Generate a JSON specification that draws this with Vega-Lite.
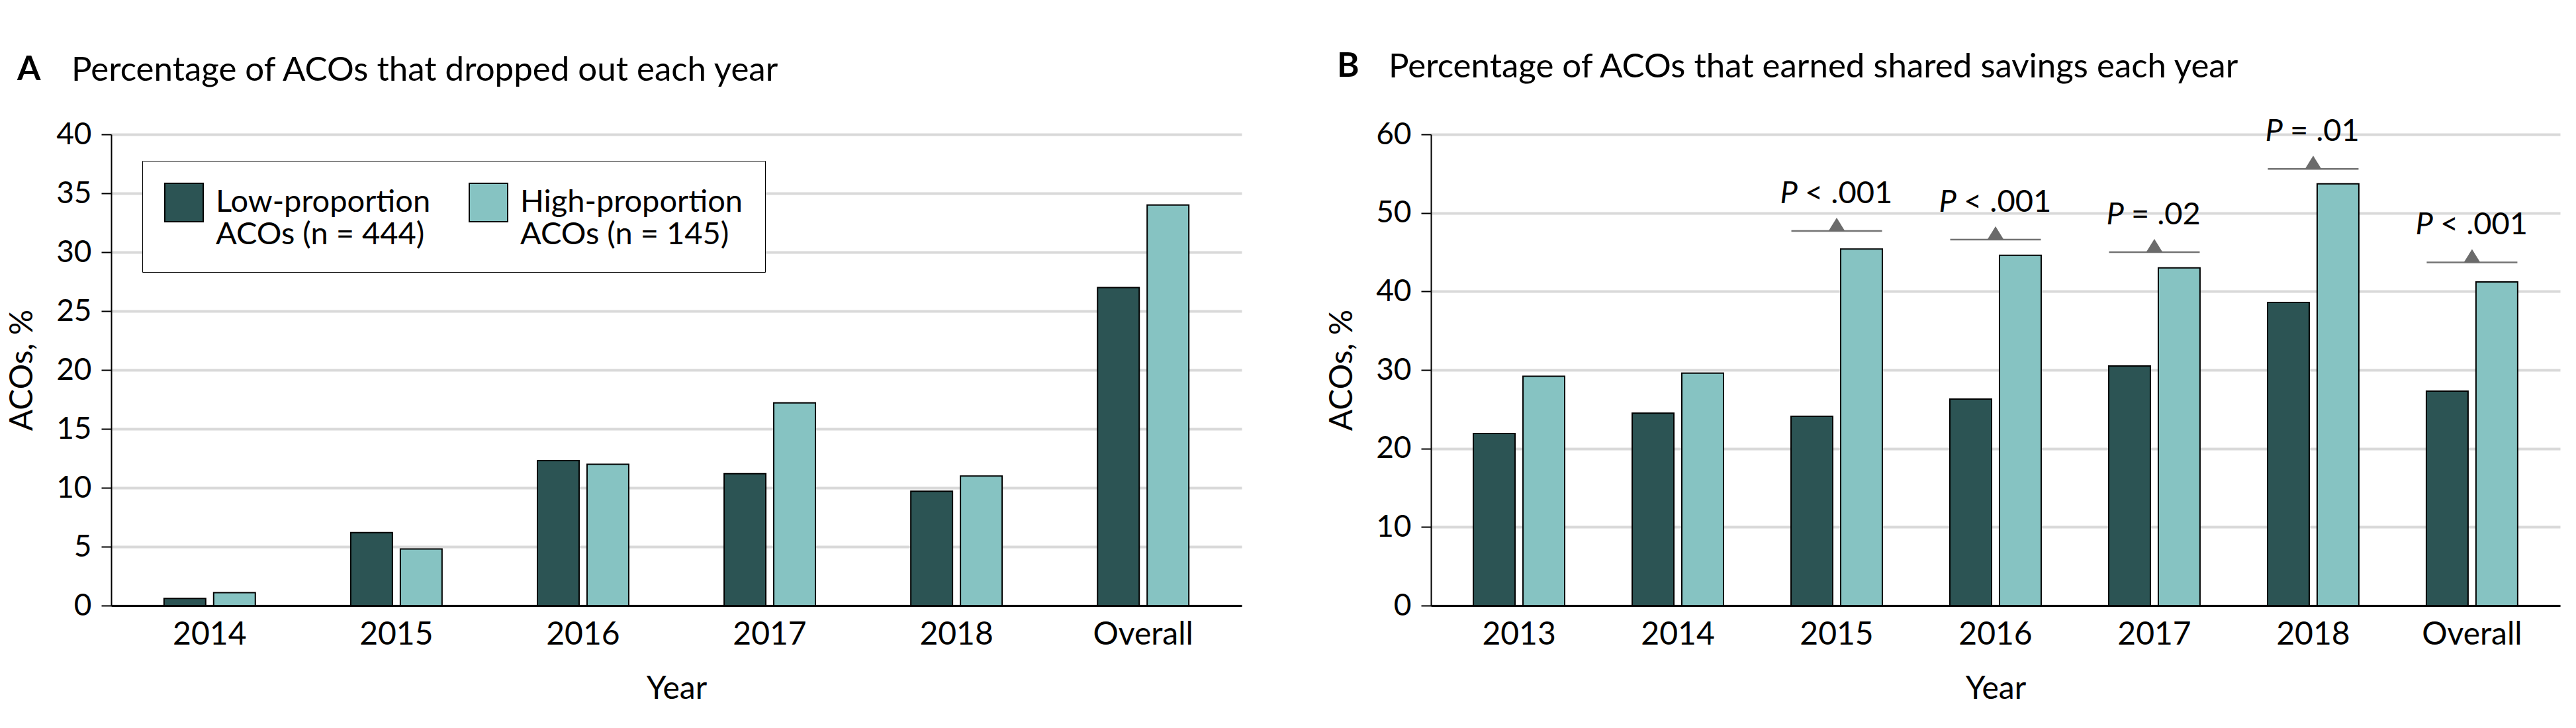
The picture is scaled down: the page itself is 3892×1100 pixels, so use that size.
{
  "$schema": "https://vega.github.io/schema/vega-lite/v6.json",
  "background": "white",
  "padding": {"left": 10, "top": 75, "right": 15, "bottom": 20},
  "spacing": 128,
  "config": {
    "font": "Lato",
    "view": {"stroke": null},
    "axis": {"labelColor": "black", "titleColor": "black", "titleFontWeight": "normal"},
    "axisX": {"labelAngle": 0, "ticks": false, "domainColor": "black", "domainWidth": 3, "labelFontSize": 48, "labelPadding": 20, "titleFontSize": 48, "titlePadding": 34, "grid": false},
    "axisY": {"grid": true, "gridColor": "#d9d9d9", "gridWidth": 4, "domainColor": "black", "domainWidth": 2, "tickColor": "black", "tickWidth": 2, "tickSize": 15, "labelPadding": 15, "labelFontSize": 46, "titleFontSize": 48, "titlePadding": 26},
    "title": {"fontSize": 51, "fontWeight": "normal", "anchor": "start", "color": "black", "baseline": "top", "frame": "group"},
    "legend": {"labelFontSize": 47, "labelColor": "black", "symbolType": "square", "symbolSize": 3364, "symbolStrokeColor": "black", "symbolStrokeWidth": 2, "labelOffset": 18, "columnPadding": 54, "padding": 33, "strokeColor": "black", "fillColor": "white", "labelLimit": 0}
  },
  "datasets": {
    "dropout": [
      {"year": "2014", "group": "Low-proportion ACOs (n = 444)", "pct": 0.6},
      {"year": "2014", "group": "High-proportion ACOs (n = 145)", "pct": 1.1},
      {"year": "2015", "group": "Low-proportion ACOs (n = 444)", "pct": 6.2},
      {"year": "2015", "group": "High-proportion ACOs (n = 145)", "pct": 4.8},
      {"year": "2016", "group": "Low-proportion ACOs (n = 444)", "pct": 12.3},
      {"year": "2016", "group": "High-proportion ACOs (n = 145)", "pct": 12.0},
      {"year": "2017", "group": "Low-proportion ACOs (n = 444)", "pct": 11.2},
      {"year": "2017", "group": "High-proportion ACOs (n = 145)", "pct": 17.2},
      {"year": "2018", "group": "Low-proportion ACOs (n = 444)", "pct": 9.7},
      {"year": "2018", "group": "High-proportion ACOs (n = 145)", "pct": 11.0},
      {"year": "Overall", "group": "Low-proportion ACOs (n = 444)", "pct": 27.0},
      {"year": "Overall", "group": "High-proportion ACOs (n = 145)", "pct": 34.0}
    ],
    "savings": [
      {"year": "2013", "group": "Low-proportion ACOs (n = 444)", "pct": 21.9},
      {"year": "2013", "group": "High-proportion ACOs (n = 145)", "pct": 29.2},
      {"year": "2014", "group": "Low-proportion ACOs (n = 444)", "pct": 24.5},
      {"year": "2014", "group": "High-proportion ACOs (n = 145)", "pct": 29.6},
      {"year": "2015", "group": "Low-proportion ACOs (n = 444)", "pct": 24.1},
      {"year": "2015", "group": "High-proportion ACOs (n = 145)", "pct": 45.4},
      {"year": "2016", "group": "Low-proportion ACOs (n = 444)", "pct": 26.3},
      {"year": "2016", "group": "High-proportion ACOs (n = 145)", "pct": 44.6},
      {"year": "2017", "group": "Low-proportion ACOs (n = 444)", "pct": 30.5},
      {"year": "2017", "group": "High-proportion ACOs (n = 145)", "pct": 43.0},
      {"year": "2018", "group": "Low-proportion ACOs (n = 444)", "pct": 38.6},
      {"year": "2018", "group": "High-proportion ACOs (n = 145)", "pct": 53.7},
      {"year": "Overall", "group": "Low-proportion ACOs (n = 444)", "pct": 27.3},
      {"year": "Overall", "group": "High-proportion ACOs (n = 145)", "pct": 41.2}
    ],
    "pvals": [
      {"year": "2015", "line": 47.7, "stat": "P", "rel": "< .001"},
      {"year": "2016", "line": 46.6, "stat": "P", "rel": "< .001"},
      {"year": "2017", "line": 45.0, "stat": "P", "rel": "= .02"},
      {"year": "2018", "line": 55.6, "stat": "P", "rel": "= .01"},
      {"year": "Overall", "line": 43.7, "stat": "P", "rel": "< .001"}
    ]
  },
  "hconcat": [
    {
      "title": {"text": "A", "fontWeight": "bold", "offset": -51, "dx": -142},
      "vconcat": [
        {
          "width": 1708,
          "height": 712,
          "title": {"text": "Percentage of ACOs that dropped out each year", "dx": -60, "offset": 47},
          "data": {"name": "dropout"},
          "mark": {"type": "bar", "stroke": "black", "strokeWidth": 2},
          "encoding": {
            "x": {"field": "year", "type": "nominal", "sort": null, "title": "Year",
                  "scale": {"domain": ["2014", "2015", "2016", "2017", "2018", "Overall"], "paddingInner": 0.511, "paddingOuter": 0.283},
                  "axis": {"zindex": 1}},
            "xOffset": {"field": "group", "type": "nominal", "sort": ["Low-proportion ACOs (n = 444)", "High-proportion ACOs (n = 145)"],
                        "scale": {"domain": ["Low-proportion ACOs (n = 444)", "High-proportion ACOs (n = 145)"], "paddingInner": 0.16}},
            "y": {"field": "pct", "type": "quantitative", "title": "ACOs, %",
                  "scale": {"domain": [0, 40]},
                  "axis": {"values": [0, 5, 10, 15, 20, 25, 30, 35, 40]}},
            "color": {"field": "group", "type": "nominal",
                      "scale": {"domain": ["Low-proportion ACOs (n = 444)", "High-proportion ACOs (n = 145)"], "range": ["#2c5454", "#86c3c2"]},
                      "legend": {"title": null, "orient": "none", "legendX": 47, "legendY": 40, "direction": "horizontal", "columns": 2,
                                 "labelExpr": "[slice(datum.label, 0, indexof(datum.label, ' ACOs')), slice(datum.label, indexof(datum.label, ' ACOs') + 1)]"}}
          }
        }
      ]
    },
    {
      "title": {"text": "B", "fontWeight": "bold", "offset": -51, "dx": -142},
      "vconcat": [
        {
          "width": 1706,
          "height": 712,
          "title": {"text": "Percentage of ACOs that earned shared savings each year", "dx": -64, "offset": 47},
          "encoding": {
            "x": {"field": "year", "type": "nominal", "sort": null, "title": "Year",
                  "scale": {"domain": ["2013", "2014", "2015", "2016", "2017", "2018", "Overall"], "paddingInner": 0.425, "paddingOuter": 0.267},
                  "axis": {"zindex": 1}}
          },
          "layer": [
            {
              "data": {"name": "savings"},
              "mark": {"type": "bar", "stroke": "black", "strokeWidth": 2},
              "encoding": {
                "xOffset": {"field": "group", "type": "nominal", "sort": ["Low-proportion ACOs (n = 444)", "High-proportion ACOs (n = 145)"],
                            "scale": {"domain": ["Low-proportion ACOs (n = 444)", "High-proportion ACOs (n = 145)"], "paddingInner": 0.16}},
                "y": {"field": "pct", "type": "quantitative", "title": "ACOs, %",
                      "scale": {"domain": [0, 60]},
                      "axis": {"values": [0, 10, 20, 30, 40, 50, 60]}},
                "color": {"field": "group", "type": "nominal",
                          "scale": {"domain": ["Low-proportion ACOs (n = 444)", "High-proportion ACOs (n = 145)"], "range": ["#2c5454", "#86c3c2"]},
                          "legend": null}
              }
            },
            {
              "data": {"name": "pvals"},
              "mark": {"type": "tick", "color": "#737373", "size": 137, "thickness": 2.5, "opacity": 1},
              "encoding": {"y": {"field": "line", "type": "quantitative"}}
            },
            {
              "data": {"name": "pvals"},
              "mark": {"type": "point", "shape": "M -0.62 0 L 0 -1 L 0.62 0 Z", "size": 1600, "filled": true, "color": "#6b6b6b", "opacity": 1, "strokeWidth": 0},
              "encoding": {"y": {"field": "line", "type": "quantitative"}}
            },
            {
              "data": {"name": "pvals"},
              "transform": [{"filter": "indexof(datum.rel, '<') >= 0"}],
              "mark": {"type": "text", "fontSize": 47, "fontStyle": "italic", "align": "right", "baseline": "alphabetic", "dx": -59, "dy": -42, "color": "black"},
              "encoding": {"y": {"field": "line", "type": "quantitative"}, "text": {"field": "stat"}}
            },
            {
              "data": {"name": "pvals"},
              "transform": [{"filter": "indexof(datum.rel, '<') >= 0"}],
              "mark": {"type": "text", "fontSize": 47, "align": "left", "baseline": "alphabetic", "dx": -48, "dy": -42, "color": "black"},
              "encoding": {"y": {"field": "line", "type": "quantitative"}, "text": {"field": "rel"}}
            },
            {
              "data": {"name": "pvals"},
              "transform": [{"filter": "indexof(datum.rel, '=') >= 0"}],
              "mark": {"type": "text", "fontSize": 47, "fontStyle": "italic", "align": "right", "baseline": "alphabetic", "dx": -46, "dy": -42, "color": "black"},
              "encoding": {"y": {"field": "line", "type": "quantitative"}, "text": {"field": "stat"}}
            },
            {
              "data": {"name": "pvals"},
              "transform": [{"filter": "indexof(datum.rel, '=') >= 0"}],
              "mark": {"type": "text", "fontSize": 47, "align": "left", "baseline": "alphabetic", "dx": -35, "dy": -42, "color": "black"},
              "encoding": {"y": {"field": "line", "type": "quantitative"}, "text": {"field": "rel"}}
            }
          ]
        }
      ]
    }
  ]
}
